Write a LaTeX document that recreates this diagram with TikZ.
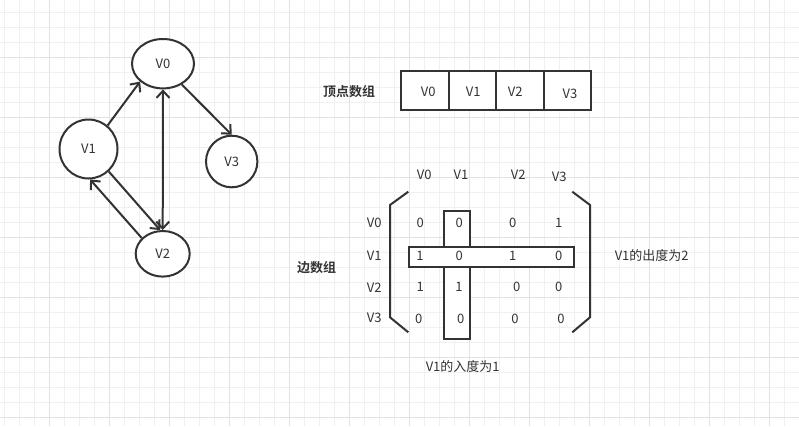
\documentclass[tikz,border=0pt]{standalone}
\usepackage{fontspec}
\setmainfont{Noto Sans CJK SC}[BoldFont={Noto Sans CJK SC Bold}]
\usetikzlibrary{arrows.meta,shapes.geometric}
\definecolor{ink}{HTML}{333333}
\definecolor{gridminor}{HTML}{F0F0F0}
\definecolor{gridmajor}{HTML}{E2E2E2}
\tikzset{
  vert/.style={ellipse,draw=ink,line width=2pt,fill=white,inner sep=0pt,text=ink,font=\fontsize{13}{15}\selectfont},
  tip/.tip={Straight Barb[length=7pt,width=13pt,line width=2pt]},
  edge/.style={draw=ink,line width=2pt,-tip},
  txt/.style={inner sep=0pt,text=ink,font=\fontsize{13}{15}\selectfont},
  lbl/.style={inner sep=0pt,text=ink,font=\fontsize{13}{15}\selectfont\bfseries},
  cell/.style={rectangle,draw=ink,line width=2pt,fill=white,inner sep=0pt,minimum height=39.3pt},
  hbox/.style={rectangle,draw=ink,line width=2pt,fill=white,inner sep=0pt},
  brk/.style={draw=ink,line width=2pt}
}
\begin{document}
\begin{tikzpicture}[x=1pt,y=-1pt]
\useasboundingbox (0,0) rectangle (799,426);
\fill[white] (0,0) rectangle (799,426);
% grid
\foreach \k in {0,...,53} {\draw[gridminor,line width=1pt] (4.3+15*\k,0) -- (4.3+15*\k,426);}
\foreach \k in {0,...,28} {\draw[gridminor,line width=1pt] (0,12.3+15*\k) -- (799,12.3+15*\k);}
\foreach \k in {0,...,12} {\draw[gridmajor,line width=1pt] (49.3+60*\k,0) -- (49.3+60*\k,426);}
\foreach \k in {0,...,6} {\draw[gridmajor,line width=1pt] (0,57.3+60*\k) -- (799,57.3+60*\k);}

% graph
\node[vert,minimum width=62pt,minimum height=49.4pt] (v0) at (163,63.7) {V0};
\node[vert,minimum width=58pt,minimum height=59pt] (v1) at (88.5,149) {V1};
\node[vert,minimum width=51.4pt,minimum height=51.6pt] (v3) at (231.7,161.5) {V3};
\node[vert,minimum width=54pt,minimum height=45.6pt] (v2) at (162.7,253.8) {V2};

\draw[edge] (v1.51.6) -- (v0.218);
\draw[edge,tip-tip] (v0.south) -- (v2.north);
\draw[edge] (v0.-48.7) -- (v3.north);
\draw[edge] (v1.-48.9) -- (v2.96.7);
\draw[edge] (v2.143.6) -- (v1.-87);

% vertex array
\node[lbl] (vlabel) at (349,91.7) {顶点数组};
\node[cell,minimum width=48.3pt] (c0) at (424.85,90.35) {};
\node[cell,minimum width=47pt] (c1) at (472.5,90.35) {};
\node[cell,minimum width=48.3pt] (c2) at (520.15,90.35) {};
\node[cell,minimum width=46.7pt] (c3) at (567.65,90.35) {};
\node[txt] (t0) at (428.3,91.7) {V0};
\node[txt] (t1) at (473.3,91.7) {V1};
\node[txt] (t2) at (515.3,91.7) {V2};
\node[txt] (t3) at (570,94) {V3};

% matrix brackets
\draw[brk] (408.3,191.7) -- (390,205) -- (390,317.3) -- (408.3,332.3);
\draw[brk] (572.3,191.7) -- (590,205) -- (590,317.3) -- (572.3,332.3);
% highlight boxes
\node[hbox,minimum width=26.6pt,minimum height=128.3pt] (colbox) at (457,274.85) {};
\node[hbox,minimum width=165pt,minimum height=19.7pt] (rowbox) at (491.5,257.15) {};

% headers
\node[txt] (h0) at (424.3,175) {V0};
\node[txt] (h1) at (461,175) {V1};
\node[txt] (h2) at (518.3,175) {V2};
\node[txt] (h3) at (559.3,177.3) {V3};
\node[txt] (r0) at (374.3,223.3) {V0};
\node[txt] (r1) at (374.3,256) {V1};
\node[txt] (r2) at (374.3,287.3) {V2};
\node[txt] (r3) at (374.3,318.3) {V3};

% entries
\node[txt] (m00) at (420.3,223.3) {0};
\node[txt] (m01) at (459.3,223.3) {0};
\node[txt] (m02) at (512.7,223.3) {0};
\node[txt] (m03) at (558.7,223.3) {1};
\node[txt] (m10) at (420,256) {1};
\node[txt] (m11) at (459.3,256) {0};
\node[txt] (m12) at (512.7,256) {1};
\node[txt] (m13) at (558.7,256) {0};
\node[txt] (m20) at (420.3,287.3) {1};
\node[txt] (m21) at (459,287.3) {1};
\node[txt] (m22) at (516.7,287.3) {0};
\node[txt] (m23) at (558.7,287.3) {0};
\node[txt] (m30) at (418.7,319.3) {0};
\node[txt] (m31) at (460.7,319.3) {0};
\node[txt] (m32) at (515,319.3) {0};
\node[txt] (m33) at (561,319.3) {0};

\node[lbl] (elabel) at (316.7,267.7) {边数组};
\node[txt] (outdeg) at (651.7,256) {V1的出度为2};
\node[txt] (indeg) at (462.7,366.7) {V1的入度为1};
\end{tikzpicture}
\end{document}
